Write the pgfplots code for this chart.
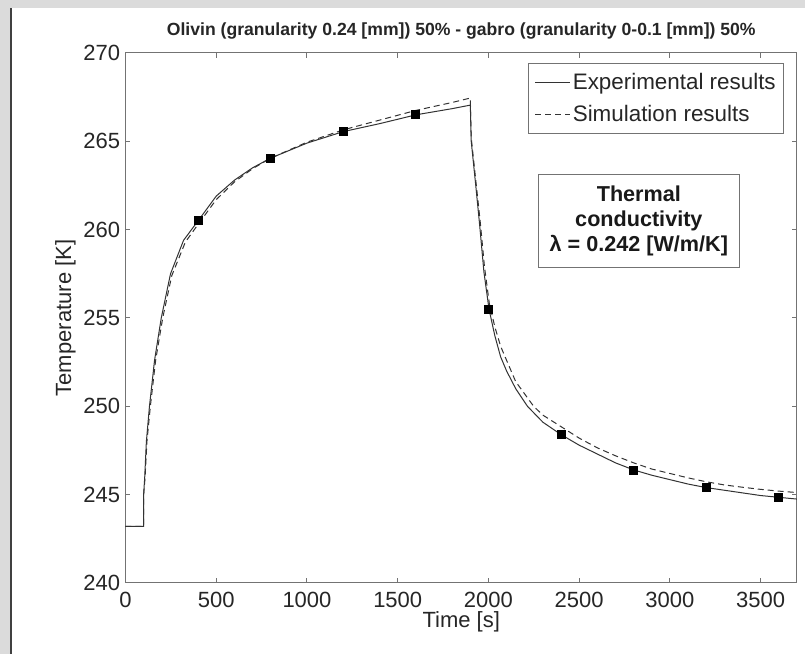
\documentclass[border=0pt]{standalone}
\usepackage{fontspec}
\setmainfont{Liberation Sans}
\usepackage{pgfplots}
\pgfplotsset{compat=1.18}
\pgfplotstableread{
t T
0 243.2
100 243.2
100 245.0
106 246.0
115 248.0
132 250.0
160 252.6
197 255.0
248 257.5
320 259.4
400 260.5
500 261.9
600 262.8
700 263.5
800 264.05
1000 264.9
1200 265.55
1400 266.0
1600 266.5
1800 266.85
1900 267.05
1905 265.0
1930 262.5
1952 260.2
1975 257.6
2003 255.5
2035 254.0
2067 252.8
2100 252.0
2150 251.0
2215 250.0
2300 249.1
2400 248.4
2500 247.8
2600 247.3
2700 246.8
2800 246.4
2900 246.1
3000 245.85
3100 245.6
3200 245.4
3300 245.25
3400 245.1
3500 244.95
3600 244.85
3700 244.75
}\experimental
\pgfplotstableread{
t T
0 243.2
100 243.2
100 245.0
108 246.0
118 248.0
137 250.0
166 252.6
205 255.0
255 257.4
330 259.3
400 260.3
500 261.7
600 262.7
700 263.45
800 264.05
1000 264.95
1200 265.65
1400 266.2
1600 266.75
1800 267.2
1900 267.45
1905 265.2
1930 262.8
1955 260.4
1978 257.9
2005 255.8
2035 254.5
2067 253.4
2100 252.6
2150 251.4
2249 250.0
2300 249.5
2400 248.85
2500 248.2
2600 247.65
2700 247.2
2800 246.8
2900 246.45
3000 246.2
3100 245.95
3200 245.73
3300 245.55
3400 245.42
3500 245.3
3600 245.2
3700 245.12
}\simulation
\pgfplotstableread{
t T
400 260.5
800 264.05
1200 265.55
1600 266.5
2000 255.5
2400 248.4
2800 246.4
3200 245.4
3600 244.85
}\markers
\begin{document}
\begin{tikzpicture}
\path[use as bounding box, fill=white] (0,0) rectangle (402.5pt,327pt);
\fill[black!14] (0,323pt) rectangle (402.5pt,327pt);
\fill[black!14] (0,0) rectangle (5pt,323pt);
\fill[black!75] (5pt,0) rectangle (6pt,323pt);
\begin{axis}[
  at={(62.75pt,35.5pt)}, anchor=south west,
  scale only axis, width=335.75pt, height=265pt,
  xmin=0, xmax=3700, ymin=240, ymax=270,
  clip mode=individual,
  xtick={0,500,...,3500}, ytick={240,245,...,270},
  tick align=inside, major tick length=2.5pt,
  axis line style={black!55, line width=0.5pt},
  tick style={black!55, line width=0.5pt},
  /pgf/number format/assume math mode=true,
  /pgf/number format/1000 sep={},
  ticklabel style={font=\fontsize{11}{13}\selectfont, text=black!85},
  xticklabel style={inner sep=0pt, anchor=north, yshift=-4.6pt},
  yticklabel style={inner sep=0pt, anchor=east, xshift=-2.5pt},
  xlabel={Time [s]},
  ylabel={Temperature [K]},
  label style={font=\fontsize{11}{13}\selectfont, text=black!85},
  xlabel style={at={(axis description cs:0.5,-0.074)}, anchor=center},
  ylabel style={at={(axis description cs:-0.0894,0.5)}, anchor=center},
  legend style={at={(0.981,0.981)}, anchor=north east, draw=black!55,
    line width=0.5pt, fill=white,
    font=\fontsize{11.2}{13}\selectfont, text=black!85,
    inner xsep=3pt, inner ysep=1.5pt,
    nodes={inner xsep=1pt, inner ysep=3.2pt, anchor=west}},
  legend cell align=left,
  legend image code/.code={\draw[#1] (0pt,0pt) -- (17.5pt,0pt);},
]
\addplot[black!80, line width=0.5pt] table[x=t, y=T] {\experimental};
\addlegendentry{Experimental results}
\addplot[black!80, line width=0.5pt, dash pattern=on 3pt off 2pt] table[x=t, y=T] {\simulation};
\addlegendentry{Simulation results}
\addplot[only marks, mark=square*, mark size=2pt, black] table[x=t, y=T] {\markers};
\node[draw=black!55, line width=0.5pt, fill=white, align=center,
  font=\bfseries\fontsize{10.8}{12.5}\selectfont, text=black!90,
  minimum width=100.5pt, minimum height=46.5pt, inner sep=2pt]
  at (rel axis cs:0.7645,0.683) {Thermal\\conductivity\\λ = 0.242 [W/m/K]};
\node[font=\bfseries\fontsize{8.8}{10}\selectfont, text=black!85, inner sep=0pt]
  at (rel axis cs:0.5,1.042) {Olivin (granularity 0.24 [mm]) 50\% - gabro (granularity 0-0.1 [mm]) 50\%};
\end{axis}
\end{tikzpicture}
\end{document}
